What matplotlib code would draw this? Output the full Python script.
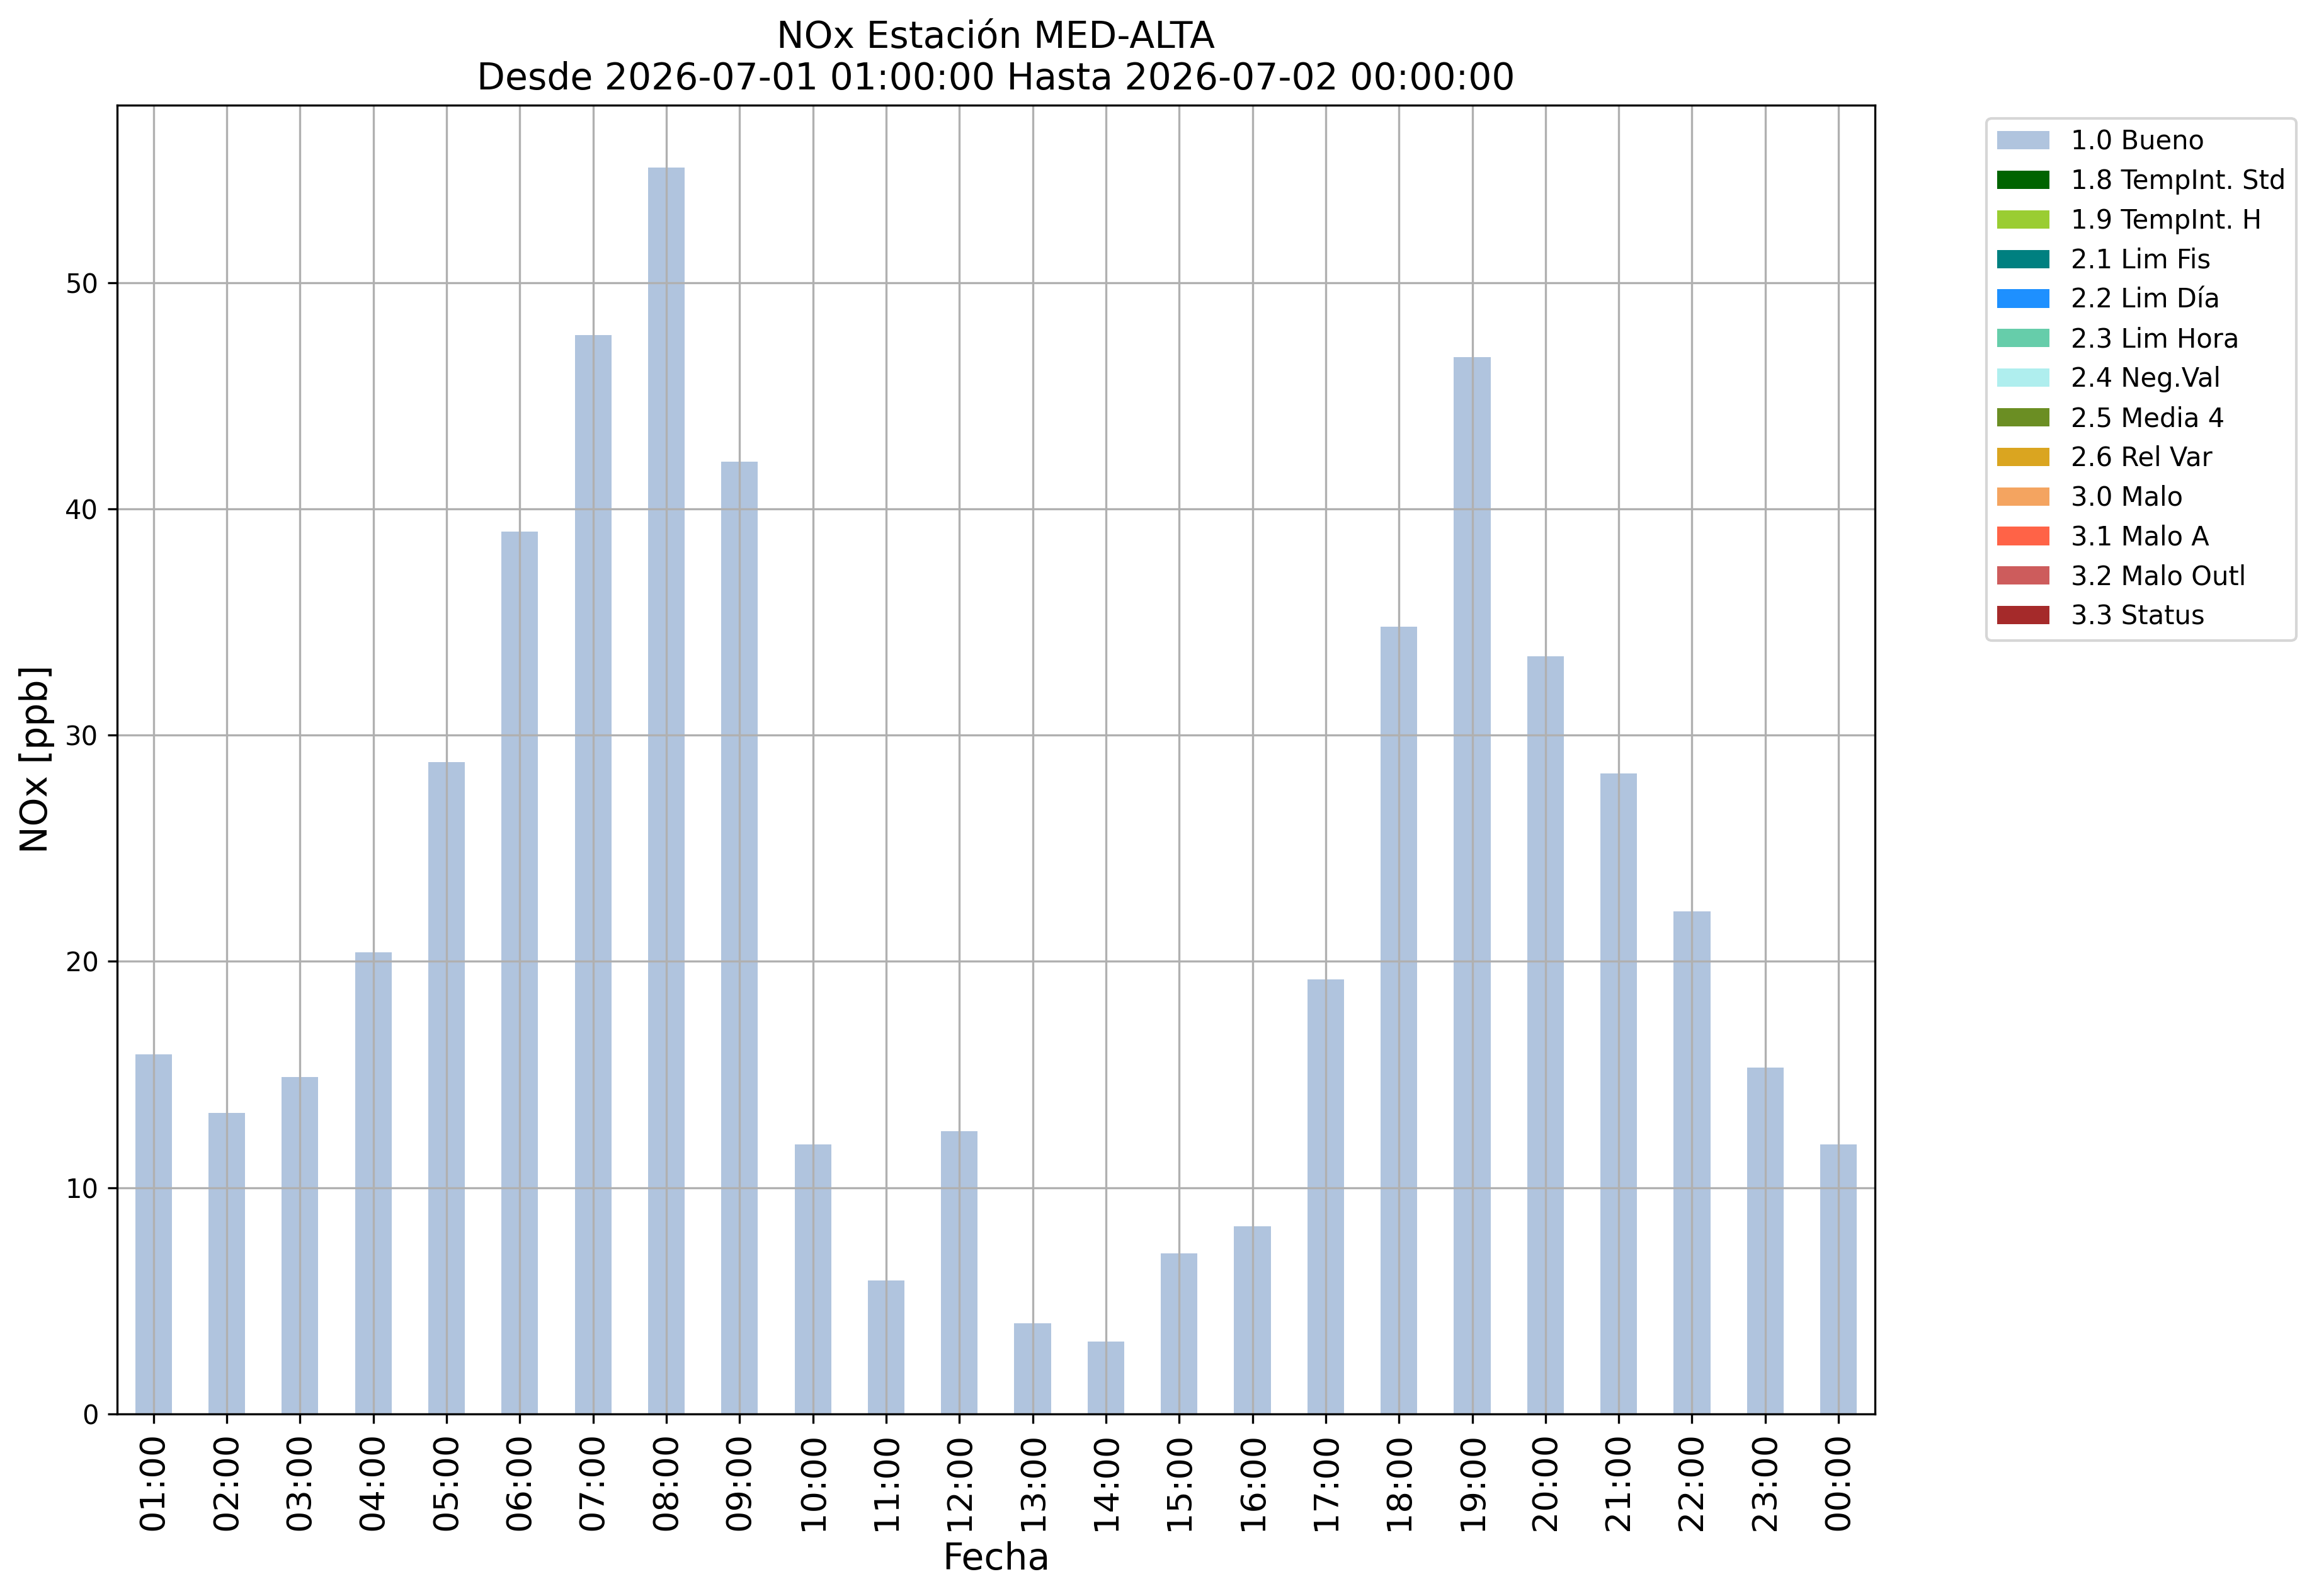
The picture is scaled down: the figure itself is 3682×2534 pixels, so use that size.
import matplotlib
matplotlib.use("Agg")
import matplotlib.pyplot as plt
import numpy as np

horas = ["01:00", "02:00", "03:00", "04:00", "05:00", "06:00", "07:00", "08:00",
         "09:00", "10:00", "11:00", "12:00", "13:00", "14:00", "15:00", "16:00",
         "17:00", "18:00", "19:00", "20:00", "21:00", "22:00", "23:00", "00:00"]

bueno = [15.9, 13.3, 14.9, 20.4, 28.8, 39.0, 47.7, 55.1, 42.1, 11.9, 5.9, 12.5,
         4.0, 3.2, 7.1, 8.3, 19.2, 34.8, 46.7, 33.5, 28.3, 22.2, 15.3, 11.9]

flags = ["1.0 Bueno", "1.8 TempInt. Std", "1.9 TempInt. H", "2.1 Lim Fis",
         "2.2 Lim Día", "2.3 Lim Hora", "2.4 Neg.Val", "2.5 Media 4",
         "2.6 Rel Var", "3.0 Malo", "3.1 Malo A", "3.2 Malo Outl", "3.3 Status"]

colores = ["lightsteelblue", "darkgreen", "yellowgreen", "teal", "dodgerblue",
           "mediumaquamarine", "paleturquoise", "olivedrab", "goldenrod",
           "sandybrown", "tomato", "indianred", "brown"]

# solo hay datos validos (1.0), el resto de flags va a cero
series = [bueno] + [[0.0] * len(horas) for _ in flags[1:]]

fig = plt.figure(figsize=(3682 / 300, 2534 / 300), dpi=300)
ax = fig.add_axes([0.0504, 0.1141, 0.8086 - 0.0504, 0.9342 - 0.1141])

x = np.arange(len(horas))
bottom = np.zeros(len(horas))
for vals, lab, col in zip(series, flags, colores):
    ax.bar(x, vals, width=0.5, bottom=bottom, color=col, label=lab)
    bottom += np.array(vals)

ax.set_xlim(-0.5, len(horas) - 0.5)
ax.set_ylim(0, bottom.max() * 1.05)
ax.set_xticks(x)
ax.set_xticklabels(horas, rotation=90, fontsize=13)
ax.tick_params(axis="y", labelsize=10)
ax.grid(True)
ax.set_xlabel("Fecha", fontsize=14)
ax.set_ylabel("NOx [ppb]", fontsize=14)
ax.set_title("NOx Estación MED-ALTA\nDesde 2026-07-01 01:00:00 Hasta 2026-07-02 00:00:00",
             fontsize=14)
ax.legend(bbox_to_anchor=(1.056, 1), loc="upper left")

fig.savefig("out.png", dpi=300)
